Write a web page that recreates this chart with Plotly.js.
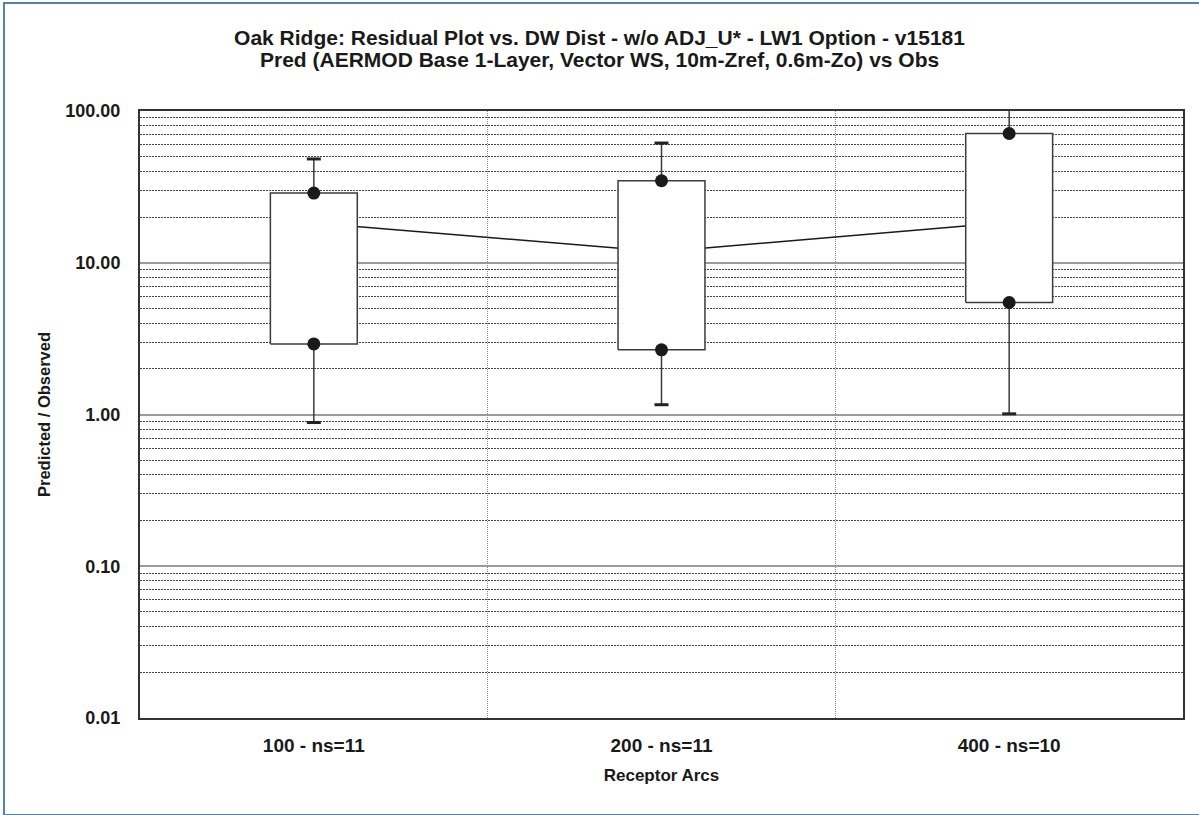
<!DOCTYPE html>
<html>
<head>
<meta charset="utf-8">
<script src="https://cdn.plot.ly/plotly-3.0.1.min.js"></script>
<style>
  html, body { margin: 0; padding: 0; background: #fff; }
  #wrap { position: relative; width: 1199px; height: 815px; overflow: hidden; }
  #chart { position: absolute; left: 0; top: 0; width: 1199px; height: 815px; }
  #frame {
    position: absolute; left: 3px; top: 2px; width: 1210px; height: 810px;
    border: 2px solid #4f81bd; pointer-events: none;
  }
</style>
</head>
<body>
<div id="wrap">
  <div id="chart"></div>
  <div id="frame"></div>
</div>
<script>
// Receptor arcs and the residual statistics of Predicted / Observed
const categories  = ['100 - ns=11', '200 - ns=11', '400 - ns=10'];
const whiskerLow  = [0.886, 1.16, 1.01];
const lowerBox    = [2.92, 2.67, 5.47];
const centerVal   = [18.3, 11.8, 18.5];
const upperBox    = [28.8, 34.7, 71.1];
const whiskerHigh = [48.3, 61.5, 130];

const yTickVals = [0.01, 0.1, 1, 10, 100];
const yTickText = ['0.01', '0.10', '1.00', '10.00', '100.00'];

const titleLine1 = 'Oak Ridge: Residual Plot vs. DW Dist - w/o ADJ_U* - LW1 Option - v15181';
const titleLine2 = 'Pred (AERMOD Base 1-Layer, Vector WS, 10m-Zref, 0.6m-Zo) vs Obs';

const idx = categories.map((_, i) => i);
const halfW = 0.125;

const traces = [];

// line joining the central values (sits behind the boxes)
traces.push({
  type: 'scatter', mode: 'lines', x: idx, y: centerVal,
  line: { color: '#1a1a1a', width: 1.5 }, hoverinfo: 'skip', showlegend: false
});

// whiskers
const wx = [], wy = [];
idx.forEach(i => { wx.push(i, i, null); wy.push(whiskerLow[i], whiskerHigh[i], null); });
traces.push({
  type: 'scatter', mode: 'lines', x: wx, y: wy,
  line: { color: '#3a3a3a', width: 1.5 }, hoverinfo: 'skip', showlegend: false
});

// boxes (white fill hides the whisker inside)
idx.forEach(i => {
  traces.push({
    type: 'scatter', mode: 'lines', fill: 'toself', fillcolor: '#ffffff',
    x: [i - halfW, i + halfW, i + halfW, i - halfW, i - halfW],
    y: [lowerBox[i], lowerBox[i], upperBox[i], upperBox[i], lowerBox[i]],
    line: { color: '#3c3c3c', width: 1.5 }, hoverinfo: 'skip', showlegend: false
  });
});

// whisker caps
traces.push({
  type: 'scatter', mode: 'markers',
  x: idx.concat(idx), y: whiskerLow.concat(whiskerHigh),
  marker: { symbol: 'line-ew', size: 10, line: { color: '#222', width: 3 } },
  hoverinfo: 'skip', showlegend: false
});

// quartile dots
traces.push({
  type: 'scatter', mode: 'markers',
  x: idx.concat(idx), y: lowerBox.concat(upperBox),
  marker: { symbol: 'circle', size: 13, color: '#1a1a1a' },
  hoverinfo: 'skip', showlegend: false
});

const face = '"Liberation Sans", Arial, sans-serif';
const W = 1199, H = 815;
const M = { l: 140, r: 16, t: 111, b: 97 };
const plotW = W - M.l - M.r, plotH = H - M.t - M.b;

const layout = {
  width: W, height: H,
  margin: M,
  paper_bgcolor: '#ffffff', plot_bgcolor: '#ffffff',
  title: {
    text: '<b>' + titleLine1 + '</b>',
    font: { family: face, size: 21, color: '#1a1a1a' },
    x: 0.5, xanchor: 'center', xref: 'container',
    y: 1 - 38 / H, yanchor: 'middle'
  },
  annotations: [{
    text: '<b>' + titleLine2 + '</b>', showarrow: false,
    xref: 'paper', yref: 'paper', x: (W / 2 - M.l) / plotW, xanchor: 'center',
    y: 1 + (M.t - 60) / plotH, yanchor: 'middle',
    font: { family: face, size: 21, color: '#1a1a1a' }
  }],
  xaxis: {
    type: 'linear', range: [-0.5, 2.5],
    tickmode: 'array', tickvals: idx, ticktext: categories,
    showgrid: false, zeroline: false,
    showline: true, mirror: true, linecolor: '#333', linewidth: 2,
    ticks: '', ticklabelstandoff: 9,
    tickfont: { family: face, size: 19, color: '#1a1a1a', weight: 'bold' },
    minor: { tickmode: 'linear', tick0: 0.5, dtick: 1, showgrid: true,
             gridcolor: '#888', gridwidth: 1, griddash: '1px,1px', ticks: '' },
    title: { text: '<b>Receptor Arcs</b>', standoff: 14,
             font: { family: face, size: 17, color: '#1a1a1a' } }
  },
  yaxis: {
    type: 'log', range: [-2, 2],
    tickmode: 'array', tickvals: yTickVals, ticktext: yTickText,
    showgrid: true, gridcolor: '#9a9a9a', gridwidth: 2,
    zeroline: false,
    showline: true, mirror: true, linecolor: '#333', linewidth: 2,
    ticks: '', ticklabelstandoff: 14,
    tickfont: { family: face, size: 18, color: '#1a1a1a', weight: 'bold' },
    minor: { dtick: 'D1', showgrid: true, gridcolor: '#444', gridwidth: 1,
             griddash: '2px,1px', ticks: '' },
    title: { text: '<b>Predicted / Observed</b>', standoff: 11,
             font: { family: face, size: 16.5, color: '#1a1a1a' } }
  }
};

Plotly.newPlot('chart', traces, layout, { staticPlot: true, displayModeBar: false });
</script>
</body>
</html>
